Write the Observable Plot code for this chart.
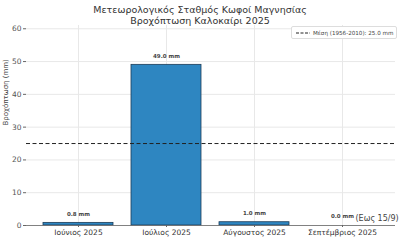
<!DOCTYPE html>
<html><head><meta charset="utf-8">
<script src="https://cdn.jsdelivr.net/npm/d3@7"></script>
<script src="https://cdn.jsdelivr.net/npm/@observablehq/plot@0.6"></script>
<style>
body{margin:0;background:#fff;font-family:"DejaVu Sans",sans-serif;}
#wrap{position:relative;width:400px;height:240px;}
.t{position:absolute;left:0;width:400px;text-align:center;font-size:9.5px;color:#333;}
#legend{position:absolute;left:291px;top:26px;width:104px;height:11px;border:1px solid #ddd;border-radius:2px;background:#fff;font-size:5.6px;color:#444;display:flex;align-items:center;}
#legend svg{margin:0 3px 0 4px}
</style></head><body>
<div id="wrap"></div>
<script>
const months = ["Ιούνιος 2025","Ιούλιος 2025","Αύγουστος 2025","Σεπτέμβριος 2025"];
const rain = [0.8, 49.0, 1.0, 0.0];
const meanValue = 25.0;
const meanLabel = "Μέση (1956-2010): 25.0 mm";
const title1 = "Μετεωρολογικός Σταθμός Κωφοί Μαγνησίας";
const title2 = "Βροχόπτωση Καλοκαίρι 2025";
const note = "(Εως 15/9)";
const yTicks = [0,10,20,30,40,50,60];

const data = months.map((m,i)=>({month:m, value:rain[i]}));

const chart = Plot.plot({
  width: 400, height: 240,
  marginTop: 25, marginBottom: 15, marginLeft: 26, marginRight: 5,
  style:{fontFamily:"DejaVu Sans", background:"transparent"},
  x:{domain:months, paddingInner:0.2, paddingOuter:0.183, label:null},
  y:{domain:[0,61], label:null},
  marks:[
    Plot.gridY(yTicks,{stroke:"#e8e8e8", strokeOpacity:1}),
    Plot.gridX(months,{stroke:"#e8e8e8", strokeOpacity:1}),
    Plot.barY(data,{x:"month", y:"value", fill:"#2e86c1", stroke:"#1d3c57", strokeWidth:0.8}),
    Plot.ruleY([meanValue],{stroke:"#222", strokeWidth:1, strokeDasharray:"4,2.5"}),
    Plot.text(data,{x:"month", y:"value", text:d=>d.value.toFixed(1)+" mm", dy:-9, fontSize:5.5, fontWeight:"bold", fill:"#444"}),
    Plot.axisY(yTicks,{tickSize:3, fontSize:7.5, fill:"#555", stroke:"#666", tickPadding:2}),
    Plot.axisX({tickSize:2, fontSize:7.5, fill:"#333", stroke:"#666", tickPadding:2}),
    Plot.ruleX([0],{x:()=>0, y1:0, y2:61, stroke:"#666", strokeWidth:0.8, frameAnchor:"left"}),
    Plot.ruleY([0],{stroke:"#666", strokeWidth:0.8}),
    Plot.text([note],{x:()=>months[3], y:()=>0, text:d=>d, dx:13, dy:-7, textAnchor:"start", fontSize:8, fill:"#444"}),
    Plot.text(["Βροχόπτωση (mm)"],{frameAnchor:"left", text:d=>d, rotate:-90, dx:-21, fontSize:7, fill:"#444"})
  ]
});
const wrap = document.getElementById("wrap");
wrap.appendChild(chart);
chart.style.position="absolute"; chart.style.left="0"; chart.style.top="0";
const a=document.createElement("div"); a.className="t"; a.style.top="4px"; a.textContent=title1; wrap.appendChild(a);
const b=document.createElement("div"); b.className="t"; b.style.top="15px"; b.textContent=title2; wrap.appendChild(b);
const lg=document.createElement("div"); lg.id="legend";
lg.innerHTML='<svg width="14" height="4"><line x1="0" y1="2" x2="14" y2="2" stroke="#222" stroke-width="1" stroke-dasharray="3,1.5"/></svg>';
const sp=document.createElement("span"); sp.textContent=meanLabel; lg.appendChild(sp);
wrap.appendChild(lg);
</script>
</body></html>
